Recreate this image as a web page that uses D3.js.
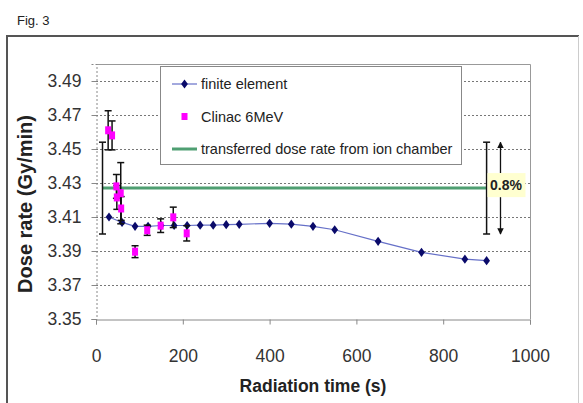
<!DOCTYPE html>
<html><head><meta charset="utf-8">
<script src="https://cdn.jsdelivr.net/npm/d3@7"></script>
<style>body{margin:0;background:#fff}svg{display:block;font-family:Arial,"Liberation Sans",sans-serif}</style>
</head><body>
<svg id="c" width="583" height="403"></svg>
<script>
const feTime = [30,60,90,120,150,180,210,240,270,300,330,400,450,500,550,650,750,850,900];
const feRate = [3.410,3.4068,3.4045,3.4045,3.405,3.405,3.405,3.4052,3.4052,3.4055,3.4057,3.4063,3.4058,3.4045,3.4025,3.3957,3.3892,3.3852,3.3843];
const clinacTime = [28,37,47,48,57,58,90,118,149,178,209];
const clinacRate = [3.461,3.458,3.428,3.4215,3.424,3.415,3.3896,3.4022,3.4049,3.4098,3.4004];
const clinacErr  = [0.0115,0.0085,0.007,0.007,0.018,0.007,0.0035,0.003,0.004,0.006,0.0045];
const ionRate = 3.427, ionErr = 0.027, ionStart = 15, ionEnd = 900, arrowTime = 932;
const xTicks = [0,200,400,600,800,1000];
const yTicks = [3.35,3.37,3.39,3.41,3.43,3.45,3.47,3.49];
const legendLabels = ["finite element","Clinac 6MeV","transferred dose rate from ion chamber"];
const pctLabel = "0.8%";

const svg = d3.select("#c");
const x = d3.scaleLinear().domain([0,1000]).range([96,530]);
const y = d3.scaleLinear().domain([3.35,3.50]).range([319,64]);

// outer frame
svg.append("line").attr("x1",7).attr("x2",579).attr("y1",36).attr("y2",36).attr("stroke","#555").attr("stroke-width",2);
svg.append("line").attr("x1",7).attr("x2",7).attr("y1",35).attr("y2",403).attr("stroke","#555").attr("stroke-width",2);
svg.append("line").attr("x1",578.5).attr("x2",578.5).attr("y1",36).attr("y2",403).attr("stroke","#ccc").attr("stroke-width",1);
svg.append("text").attr("x",17).attr("y",25).attr("font-size",13).attr("fill","#222").text("Fig. 3");

// gridlines
svg.append("g").selectAll("line").data(yTicks.slice(1)).join("line")
  .attr("x1",x(0)).attr("x2",x(1000)).attr("y1",d=>y(d)+0.5).attr("y2",d=>y(d)+0.5)
  .attr("stroke","#777").attr("stroke-dasharray","2,2").attr("stroke-width",1);
// plot border
svg.append("path").attr("d",`M${x(0)},${y(3.5)+0.5}H${x(1000)+0.5}V${y(3.35)}`).attr("fill","none").attr("stroke","#999");

// axes
const xa = svg.append("g").attr("transform",`translate(0,${y(3.35)+0.5})`)
  .call(d3.axisBottom(x).tickValues(xTicks).tickSize(5).tickPadding(25).tickFormat(d3.format("d")));
const ya = svg.append("g").attr("transform",`translate(${x(0)+0.5},0)`)
  .call(d3.axisLeft(y).tickValues(yTicks).tickSize(5).tickPadding(10).tickFormat(d3.format(".2f")));
[xa,ya].forEach(g=>{
  g.selectAll(".domain").attr("stroke","#888");
  g.selectAll(".tick line").attr("stroke","#888");
  g.selectAll("text").attr("font-size",17.5).attr("fill","#333").attr("font-family","Arial, 'Liberation Sans', sans-serif");
});
ya.select(".domain").attr("stroke-dasharray","2,2");

svg.append("text").attr("x",313).attr("y",392).attr("text-anchor","middle").attr("font-size",17.5).attr("font-weight","bold").attr("fill","#222").text("Radiation time (s)");
svg.append("text").attr("transform","translate(32,204) rotate(-90)").attr("text-anchor","middle").attr("font-size",20).attr("font-weight","bold").attr("fill","#222").text("Dose rate (Gy/min)");

// ion chamber line
svg.append("line").attr("x1",x(ionStart)).attr("x2",x(ionEnd)).attr("y1",y(ionRate)).attr("y2",y(ionRate)).attr("stroke","#4f9f72").attr("stroke-width",3);

// error bar helper
function ebar(g, t, lo, hi, w){
  const cx = x(t);
  g.append("line").attr("x1",cx).attr("x2",cx).attr("y1",y(hi)).attr("y2",y(lo));
  g.append("line").attr("x1",cx-w).attr("x2",cx+w).attr("y1",y(hi)).attr("y2",y(hi));
  g.append("line").attr("x1",cx-w).attr("x2",cx+w).attr("y1",y(lo)).attr("y2",y(lo));
}
const eb = svg.append("g").attr("stroke","#111").attr("stroke-width",1.5);
ebar(eb, ionStart, ionRate-ionErr, ionRate+ionErr, 3.5);
ebar(eb, ionEnd, ionRate-ionErr, ionRate+ionErr, 3.5);

// FE line
const fe = feTime.map((t,i)=>[t,feRate[i]]);
svg.append("path").datum(fe).attr("d",d3.line().x(d=>x(d[0])).y(d=>y(d[1])))
  .attr("fill","none").attr("stroke","#6670c8").attr("stroke-width",1.2);
svg.append("g").selectAll("path").data(fe).join("path")
  .attr("d",d3.symbol(d3.symbolDiamond,30)).attr("transform",d=>`translate(${x(d[0])},${y(d[1])}) scale(1.15,0.9)`)
  .attr("fill","#0a0a6a");

// clinac error bars and points
const cg = svg.append("g").attr("stroke","#111").attr("stroke-width",1.5);
clinacTime.forEach((t,i)=>ebar(cg,t,clinacRate[i]-clinacErr[i],clinacRate[i]+clinacErr[i],3.5));
svg.append("g").selectAll("rect").data(clinacTime).join("rect")
  .attr("x",d=>x(d)-3).attr("y",(d,i)=>y(clinacRate[i])-4).attr("width",6).attr("height",8).attr("fill","#ff00ff");

// 0.8% annotation
const defs = svg.append("defs");
defs.append("marker").attr("id","ah").attr("viewBox","0 0 10 10").attr("refX",9).attr("refY",5)
  .attr("markerWidth",5).attr("markerHeight",7).attr("orient","auto-start-reverse")
  .append("path").attr("d","M0,0L10,5L0,10z").attr("fill","#111");
const ax = x(arrowTime);
svg.append("line").attr("x1",ax).attr("x2",ax).attr("y1",y(ionRate)-15).attr("y2",y(ionRate+ionErr)).attr("stroke","#111").attr("stroke-width",1.3).attr("marker-end","url(#ah)");
svg.append("line").attr("x1",ax).attr("x2",ax).attr("y1",y(ionRate)+9).attr("y2",y(ionRate-ionErr)).attr("stroke","#111").attr("stroke-width",1.3).attr("marker-end","url(#ah)");
svg.append("rect").attr("x",ax-13).attr("y",y(ionRate)-15).attr("width",38).attr("height",24).attr("fill","#ffffd0");
svg.append("text").attr("x",ax+5.5).attr("y",y(ionRate)+1.5).attr("text-anchor","middle").attr("font-size",14).attr("font-weight","bold").attr("fill","#222").text(pctLabel);

// legend
const lg = svg.append("g");
lg.append("rect").attr("x",160.5).attr("y",66.5).attr("width",301).attr("height",98).attr("fill","#fff").attr("stroke","#888");
const rowY = [84,117,149];
lg.append("line").attr("x1",172).attr("x2",197).attr("y1",rowY[0]).attr("y2",rowY[0]).attr("stroke","#6670c8").attr("stroke-width",1.2);
lg.append("path").attr("d",d3.symbol(d3.symbolDiamond,30)).attr("transform",`translate(184.5,${rowY[0]}) scale(1.15,0.9)`).attr("fill","#0a0a6a");
lg.append("rect").attr("x",181.5).attr("y",rowY[1]-4).attr("width",6).attr("height",7).attr("fill","#ff00ff");
lg.append("line").attr("x1",172).attr("x2",197).attr("y1",rowY[2]).attr("y2",rowY[2]).attr("stroke","#4f9f72").attr("stroke-width",3);
lg.selectAll("text.l").data(legendLabels).join("text").attr("class","l")
  .attr("x",201).attr("y",(d,i)=>rowY[i]+5).attr("font-size",14.5).attr("fill","#222").text(d=>d);
</script>
</body></html>
